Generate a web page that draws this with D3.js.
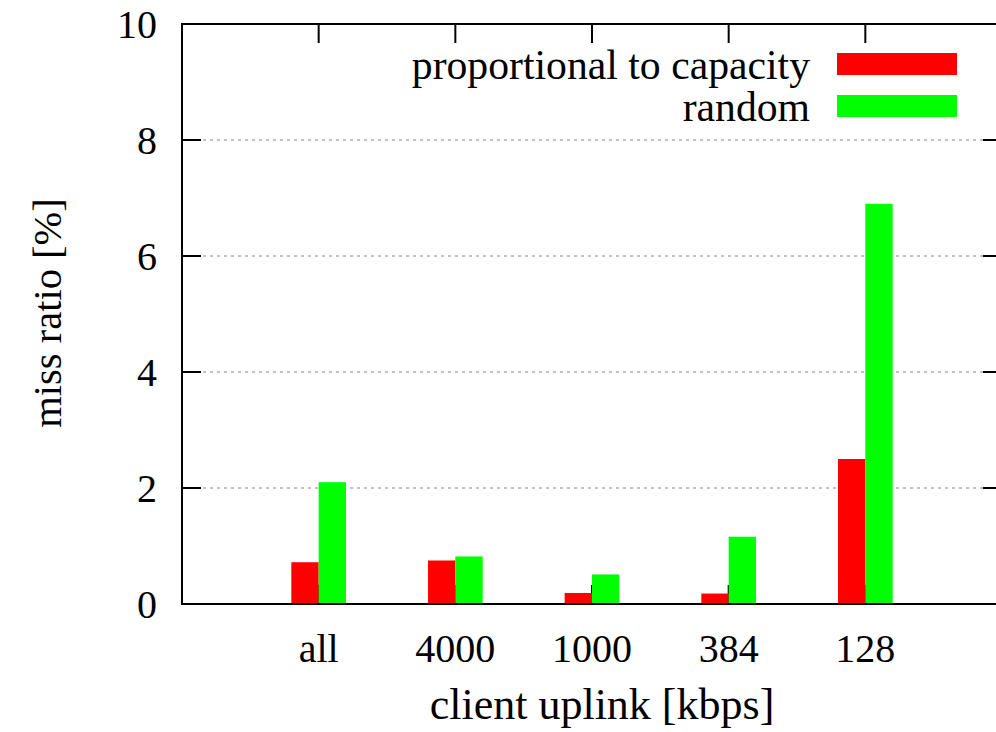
<!DOCTYPE html>
<html>
<head>
<meta charset="utf-8">
<script src="https://cdn.jsdelivr.net/npm/d3@7"></script>
<style>
  body { margin: 0; background: #fff; }
  svg { display: block; }
</style>
</head>
<body>
<div id="chart"></div>
<script>
const widthValue = 996;
const heightValue = 732;
const margin = {top: 24, right: -6, bottom: 128, left: 182}
const fontFamily = "'Liberation Serif', 'DejaVu Serif', serif"

// data
const categories = ["all", "4000", "1000", "384", "128"]
const proportional = [0.72, 0.75, 0.19, 0.18, 2.5]
const random = [2.1, 0.82, 0.51, 1.16, 6.9]
const yTicks = [0, 2, 4, 6, 8, 10]
const seriesNames = ["proportional to capacity", "random"]
const seriesColors = ["#ff0000", "#00ff00"]

const svg = d3
  .select("#chart")
  .append("svg")
  .attr("width", widthValue)
  .attr("height", heightValue)

// X Scale: categories at 1..5, frame spans 0..6
var x = d3.scaleLinear()
    .domain([0, categories.length + 1])
    .range([margin.left, widthValue - margin.right]);
// Y Scale
var y = d3.scaleLinear()
    .domain([0, 10])
    .range([heightValue - margin.bottom, margin.top]);

const boxWidth = 0.2
const tickLen = 19

function label(sel, size) {
  return sel.attr("font-family", fontFamily)
    .attr("font-size", size || 40)
    .attr("fill", "black")
}

// grid lines
svg.append("g")
  .selectAll("line")
  .data(yTicks.filter(d => d > 0 && d < 10))
  .join("line")
  .attr("x1", x(0))
  .attr("x2", x(6))
  .attr("y1", d => y(d))
  .attr("y2", d => y(d))
  .style("stroke", "#888")
  .style("stroke-width", 1)
  .style("stroke-dasharray", "3,4")

// tick marks (inward, on all sides)
const ticks = svg.append("g").style("stroke", "black").style("stroke-width", 2)
yTicks.forEach(function(t){
  ticks.append("line").attr("x1", x(0)).attr("x2", x(0) + tickLen).attr("y1", y(t)).attr("y2", y(t))
  ticks.append("line").attr("x1", x(6)).attr("x2", x(6) - tickLen).attr("y1", y(t)).attr("y2", y(t))
})
categories.forEach(function(c, i){
  ticks.append("line").attr("x1", x(i + 1)).attr("x2", x(i + 1)).attr("y1", y(10)).attr("y2", y(10) + tickLen)
  ticks.append("line").attr("x1", x(i + 1)).attr("x2", x(i + 1)).attr("y1", y(0)).attr("y2", y(0) - tickLen)
})

// bars
const series = [proportional, random]
series.forEach(function(vals, s){
  svg.append("g")
    .selectAll("rect")
    .data(vals)
    .join("rect")
    .attr("x", (d, i) => x(i + 1 + (s === 0 ? -boxWidth : 0)))
    .attr("width", x(boxWidth) - x(0))
    .attr("y", d => y(d))
    .attr("height", d => y(0) - y(d))
    .style("fill", seriesColors[s])
})

// frame
svg.append("rect")
  .attr("x", x(0))
  .attr("y", y(10))
  .attr("width", x(6) - x(0))
  .attr("height", y(0) - y(10))
  .style("fill", "none")
  .style("stroke", "black")
  .style("stroke-width", 2)

// y tick labels
svg.append("g")
  .selectAll("text")
  .data(yTicks)
  .join("text")
  .attr("x", x(0) - 25)
  .attr("y", d => y(d) + 14)
  .attr("text-anchor", "end")
  .call(label, 40)
  .text(d => d)

// x tick labels
svg.append("g")
  .selectAll("text")
  .data(categories)
  .join("text")
  .attr("x", (d, i) => x(i + 1))
  .attr("y", y(0) + 58)
  .attr("text-anchor", "middle")
  .call(label, 40)
  .text(d => d)

// axis titles
svg.append("text")
  .attr("x", 602)
  .attr("y", 719)
  .attr("text-anchor", "middle")
  .call(label, 44)
  .text("client uplink [kbps]")

svg.append("text")
  .attr("transform", "translate(61,313) rotate(-90)")
  .attr("text-anchor", "middle")
  .call(label, 40.5)
  .text("miss ratio [%]")

// legend
const legend = svg.append("g")
seriesNames.forEach(function(name, i){
  legend.append("text")
    .attr("x", 810)
    .attr("y", 79 + i * 42)
    .attr("text-anchor", "end")
    .call(label, 41.7)
    .text(name)
  legend.append("rect")
    .attr("x", 837)
    .attr("y", 53 + i * 42)
    .attr("width", 120)
    .attr("height", 22)
    .style("fill", seriesColors[i])
})
</script>
</body>
</html>
